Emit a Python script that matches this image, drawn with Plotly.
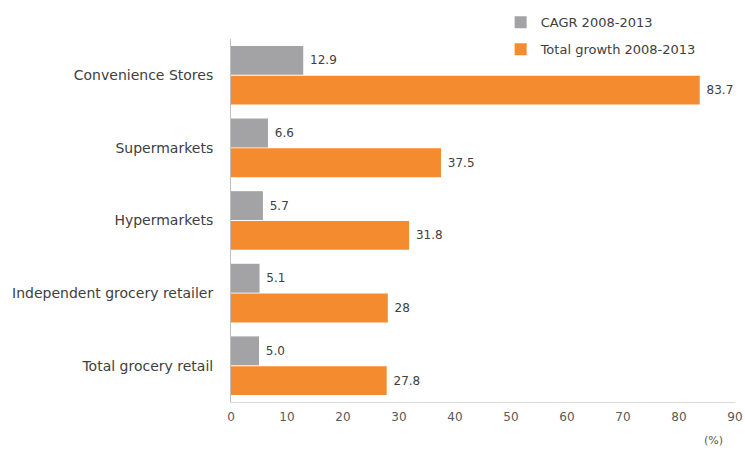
import plotly.graph_objects as go

categories = ["Convenience Stores", "Supermarkets", "Hypermarkets",
              "Independent grocery retailer", "Total grocery retail"]
cagr = [12.9, 6.6, 5.7, 5.1, 5.0]
cagr_labels = ["12.9", "6.6", "5.7", "5.1", "5.0"]
total = [83.7, 37.5, 31.8, 28, 27.8]
total_labels = ["83.7", "37.5", "31.8", "28", "27.8"]
x_ticks = [0, 10, 20, 30, 40, 50, 60, 70, 80, 90]

FONT = "DejaVu Sans, Verdana, sans-serif"
pad = "\u00a0"
fig = go.Figure()
fig.add_trace(go.Bar(
    y=categories, x=cagr, orientation="h", name="CAGR 2008-2013",
    legendgroup="a",
    marker=dict(color="#a3a3a5", line=dict(width=0)),
    text=[pad + t for t in cagr_labels], textposition="outside",
    textfont=dict(size=12, color="#404040"), cliponaxis=False,
))
fig.add_trace(go.Bar(
    y=categories, x=total, orientation="h", name="Total growth 2008-2013",
    legendgroup="b",
    marker=dict(color="#f58b2f", line=dict(width=0)),
    text=[pad + t for t in total_labels], textposition="outside",
    textfont=dict(size=12, color="#404040"), cliponaxis=False,
))

fig.update_layout(
    width=745, height=450,
    margin=dict(l=231, r=10, t=39, b=48, autoexpand=False),
    paper_bgcolor="white", plot_bgcolor="white",
    barmode="group", bargap=0.18, bargroupgap=0.03,
    font=dict(family=FONT, color="#404040"),
    legend=dict(x=0.535, y=1.087, xanchor="left", yanchor="top",
                font=dict(size=13, color="#404040"),
                bgcolor="rgba(0,0,0,0)", tracegroupgap=7),
    xaxis=dict(range=[0, 90], tickvals=x_ticks, showgrid=False, zeroline=False,
               showline=True, linecolor="#d9d9d9", linewidth=1, automargin=False,
               tickfont=dict(size=12, color="#595959"), ticks="",
               ticklabelstandoff=4),
    yaxis=dict(autorange="reversed", showgrid=False, zeroline=False, automargin=False,
               showline=True, linecolor="#bfbfbf", linewidth=1, ticks="",
               tickfont=dict(size=14, color="#404040"), ticklabelstandoff=14),
    annotations=[dict(text="(%)", xref="paper", yref="paper", x=0.958, y=-0.105,
                      xanchor="center", yanchor="middle",
                      showarrow=False, font=dict(size=11, color="#595959"))],
)

fig.write_html("out.html")
